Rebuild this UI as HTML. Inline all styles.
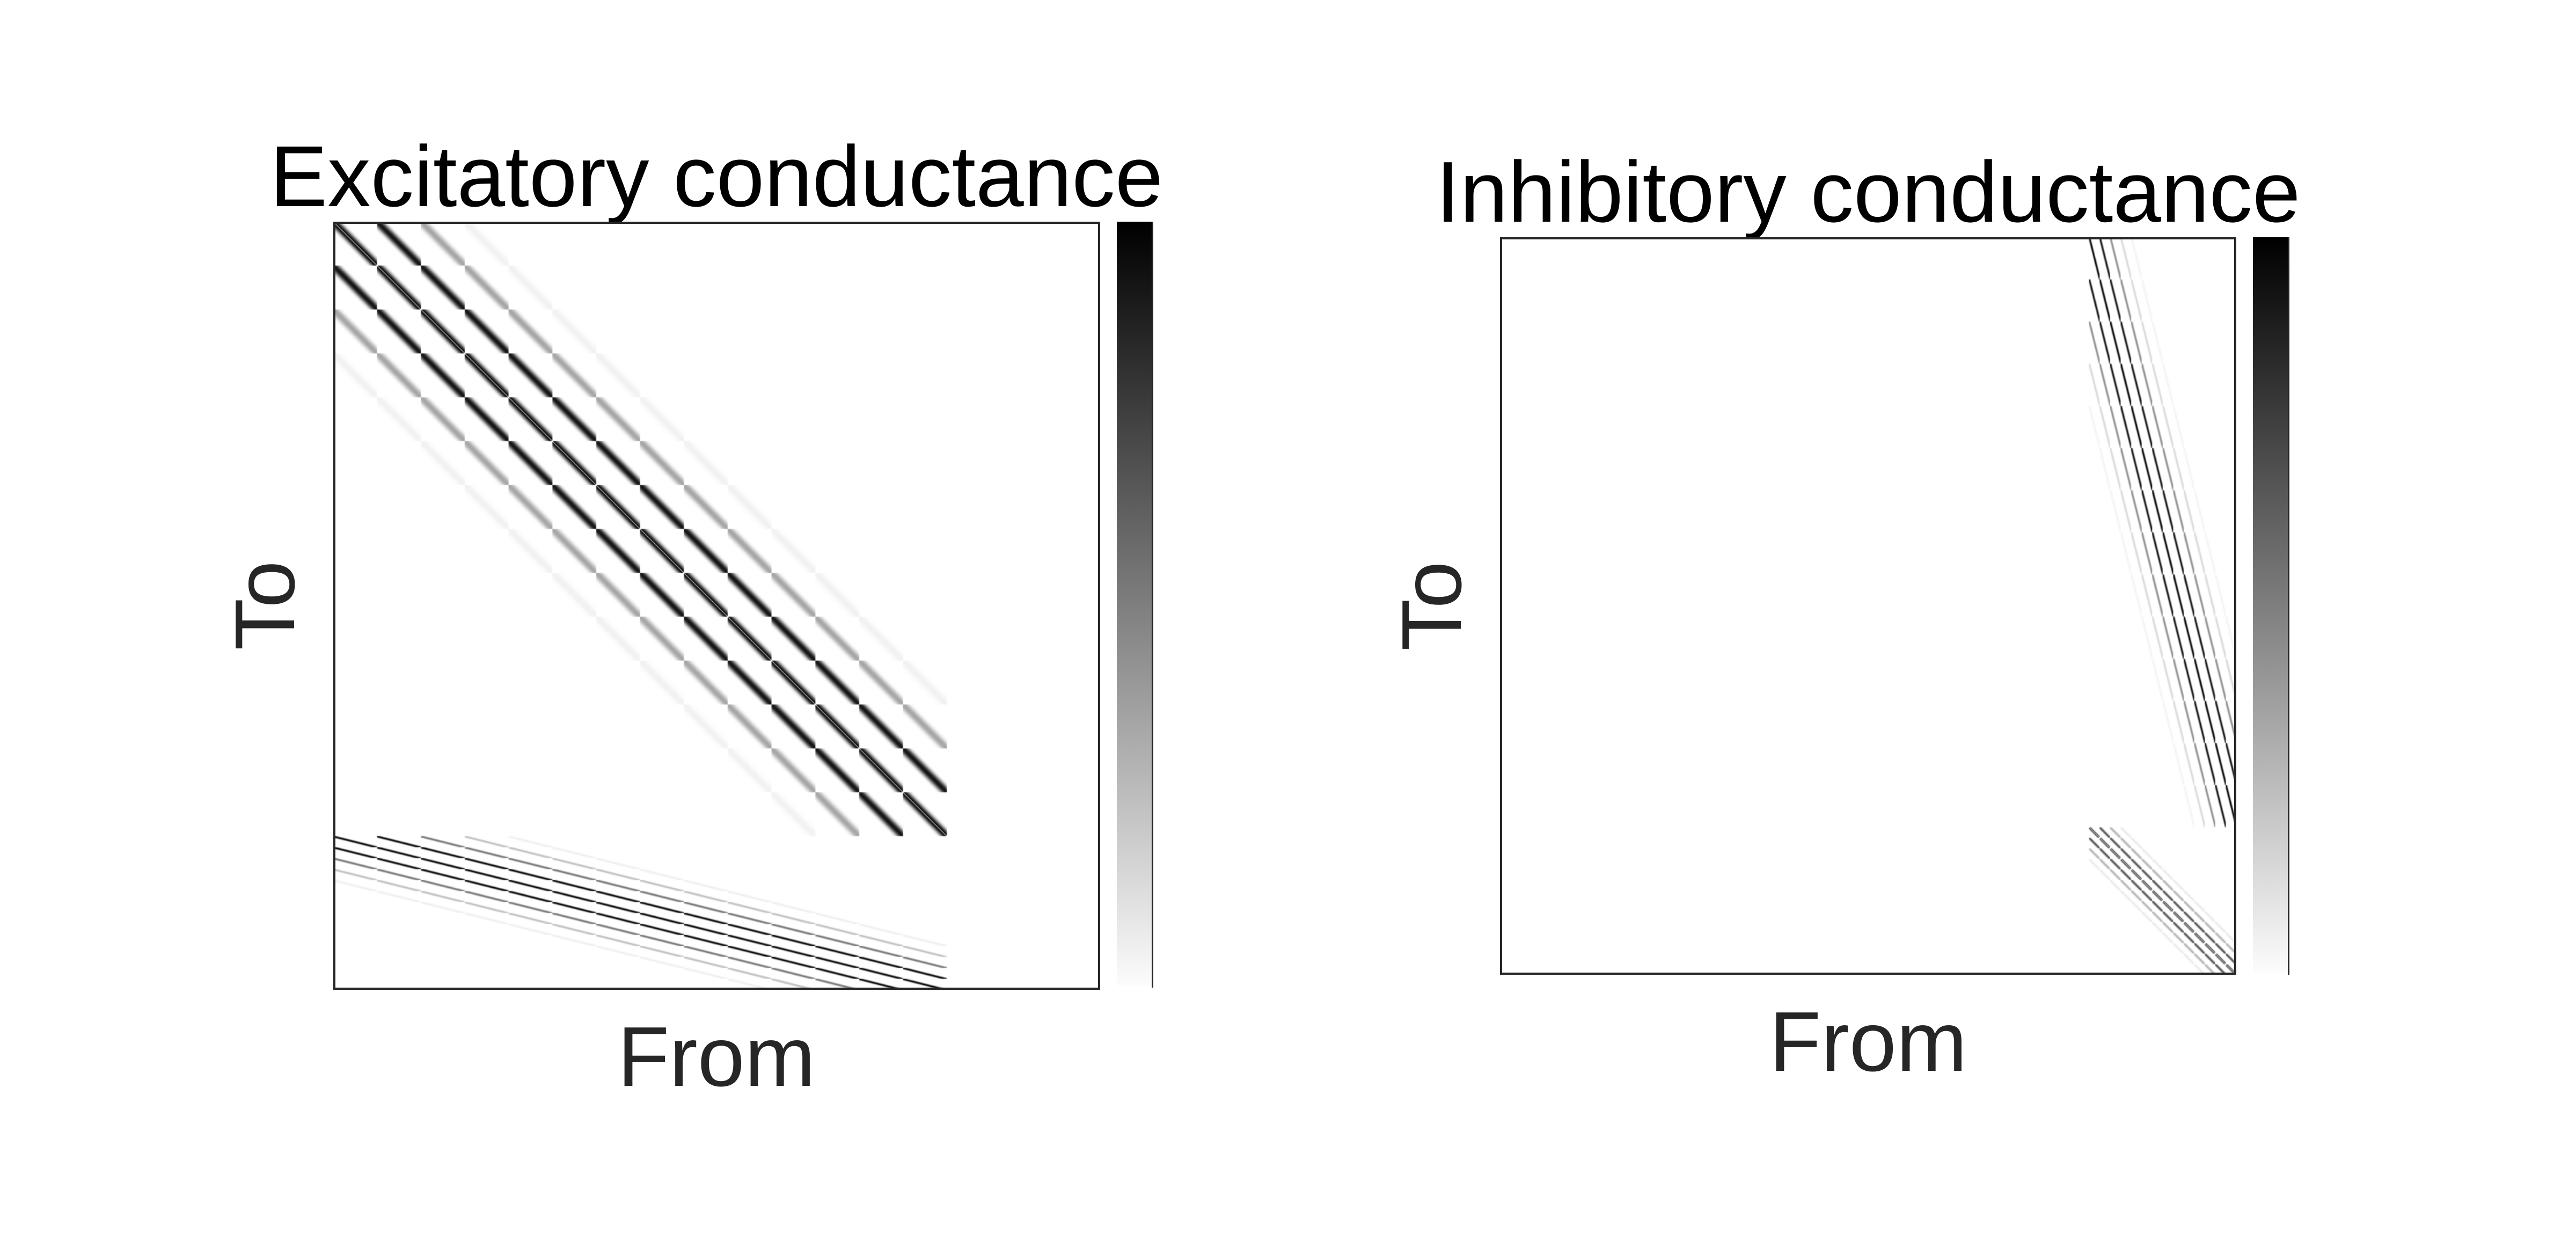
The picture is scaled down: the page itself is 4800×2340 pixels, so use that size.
<!DOCTYPE html>
<html><head><meta charset="utf-8"><style>
html,body{margin:0;padding:0;background:#fff;}
body{width:4800px;height:2340px;position:relative;overflow:hidden;font-family:"Liberation Sans",Arial,sans-serif;}
.abs{position:absolute;}
.frame{position:absolute;border:4px solid #262626;box-sizing:border-box;}
.title{position:absolute;font-size:161px;color:#000;white-space:nowrap;line-height:1;}
.lab{position:absolute;font-size:158px;color:#262626;white-space:nowrap;line-height:1;}
.cbar{position:absolute;background:linear-gradient(to bottom,#000 0%,#fcfcfc 100%);}
.cline{position:absolute;background:#262626;width:3px;}
</style></head><body>

<div class="title" style="left:1335px;top:249px;transform:translateX(-50%);">Excitatory conductance</div>
<canvas id="cE" class="abs" width="1429" height="1431" style="left:621px;top:413px;"></canvas>
<div class="frame" style="left:621px;top:413px;width:1429px;height:1431px;"></div>
<div class="cbar" style="left:2081px;top:413px;width:66px;height:1424px;"></div>
<div class="cline" style="left:2146px;top:413px;height:1427px;"></div>
<div class="lab" style="left:1335px;top:1890px;transform:translateX(-50%);">From</div>
<div class="lab" style="left:494px;top:1128px;transform:translate(-50%,-50%) rotate(-90deg);">To</div>

<div class="title" style="left:3481px;top:278px;transform:translateX(-50%);">Inhibitory conductance</div>
<canvas id="cI" class="abs" width="1372" height="1374" style="left:2795px;top:442px;"></canvas>
<div class="frame" style="left:2795px;top:442px;width:1372px;height:1374px;"></div>
<div class="cbar" style="left:4198px;top:442px;width:66px;height:1371px;"></div>
<div class="cline" style="left:4263px;top:442px;height:1374px;"></div>
<div class="lab" style="left:3481px;top:1862px;transform:translateX(-50%);">From</div>
<div class="lab" style="left:2668px;top:1129px;transform:translate(-50%,-50%) rotate(-90deg);">To</div>

<script>
// network layout
const nE = 784, nI = 196, N = nE + nI;
const WE = 56, WI = 14; // lattice widths (E: 56x14, I: 14x14)
// kernel profiles (weight by |dx|, |dy|)
const eeDx = [1,0.98,0.94,0.87,0.78,0.67,0.55,0.42,0.3,0.2,0.12,0.06,0.03];
const eeDy = [1,0.92,0.35,0.05];
const eiDx = [1,1,0.95,0.85,0.7,0.5,0.3,0.15,0.05];
const eiDy = [1,1,0.55,0.25,0.06];
const ieDx = [1,1,0.95,0.85,0.7,0.5,0.3,0.15,0.05];
const ieDy = [1,0.95,0.45,0.15,0.04];
const iiDx = [1,0.85,0.45,0.12];
const iiDy = [1,0.7,0.3,0.08];

function prof(dxA, dyA, dx, dy){
  dx=Math.abs(dx); dy=Math.abs(dy);
  if(dx>=dxA.length||dy>=dyA.length) return 0;
  return dxA[dx]*dyA[dy];
}
function weight(to, from){
  if(from<nE){
    const xf=from%WE, yf=Math.floor(from/WE);
    if(to<nE){
      if(to===from) return 0;
      const xt=to%WE, yt=Math.floor(to/WE);
      return prof(eeDx,eeDy,xt-xf,yt-yf);
    } else {
      const k=to-nE, xt=(k%WI)*4, yt=Math.floor(k/WI);
      return prof(eiDx,eiDy,xf-xt,yf-yt);
    }
  } else {
    const k=from-nE, xf=k%WI, yf=Math.floor(k/WI);
    if(to<nE){
      const xt=to%WE, yt=Math.floor(to/WE);
      return prof(ieDx,ieDy,xt-xf*4,yt-yf);
    } else {
      if(to===from) return 0;
      const q=to-nE, xt=q%WI, yt=Math.floor(q/WI);
      return prof(iiDx,iiDy,xt-xf,yt-yf);
    }
  }
}
function render(id, cols){
  const off=document.createElement('canvas');
  off.width=N; off.height=N;
  const ctx=off.getContext('2d');
  const img=ctx.createImageData(N,N);
  for(let r=0;r<N;r++){
    for(let c=0;c<N;c++){
      let v=cols(c)?weight(r,c):0;
      v=Math.min(1,v);
      const g=Math.round(255*(1-v));
      const p=(r*N+c)*4;
      img.data[p]=g;img.data[p+1]=g;img.data[p+2]=g;img.data[p+3]=255;
    }
  }
  ctx.putImageData(img,0,0);
  const cv=document.getElementById(id);
  const dc=cv.getContext('2d');
  dc.imageSmoothingEnabled=true;
  dc.drawImage(off,0,0,cv.width,cv.height);
}
render('cE', c=>c<nE);
render('cI', c=>c>=nE);
</script>
</body></html>
